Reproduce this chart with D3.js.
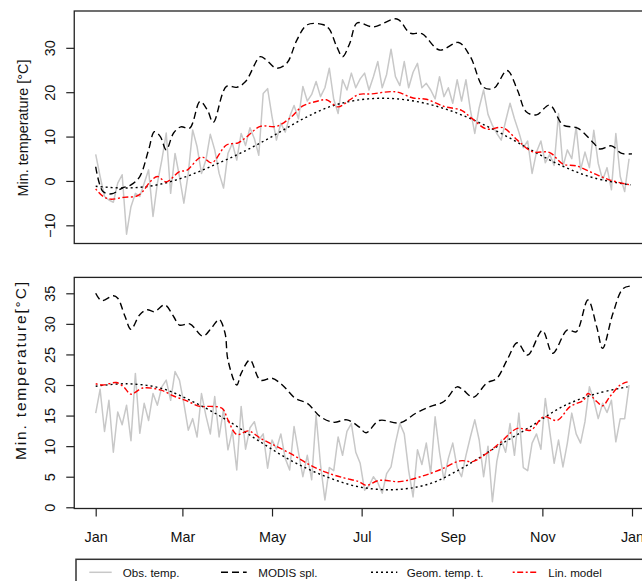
<!DOCTYPE html>
<html>
<head>
<meta charset="utf-8">
<script src="https://cdn.jsdelivr.net/npm/d3@7"></script>
<style>
  body { margin: 0; background: #fff; }
  svg { display: block; font-family: "Liberation Sans", Arial, Helvetica, sans-serif; }
</style>
</head>
<body>
<div id="chart"></div>
<script>
// month ticks (day of year)
var monthDays = [0, 59, 120, 181, 243, 304, 365],
    monthLabels = ["Jan", "Mar", "May", "Jul", "Sep", "Nov", "Jan"];

var legendLabels = ["Obs. temp.", "MODIS spl.", "Geom. temp. t.", "Lin. model"];

// observed daily minimum temperature, one value every 3 days from Jan 1
var obsTop = [6.0, 1.0, -3.5, -4.3, -4.8, -0.5, 1.4, -12.0, -5.8, -2.8, -3.5, -0.5, 2.5, -8.0, -0.5, 4.7,
  10.8, -2.8, 6.2, 1.0, -5.0, 1.7, 11.5, 7.7, 1.7, 4.7, 10.5, 7.0, 1.7, -1.6, 6.2, 8.5, 4.7, 10.7, 8.0,
  12.0, 9.5, 5.8, 19.7, 20.8, 14.5, 9.2, 13.0, 11.0, 14.5, 17.0, 14.0, 21.3, 18.0, 19.5, 22.4, 19.0, 21.0,
  25.4, 18.4, 15.2, 22.8, 20.5, 24.3, 21.0, 23.0, 24.3, 20.5, 23.5, 26.9, 21.0, 24.0, 29.7, 23.5, 21.5,
  26.9, 21.0, 24.5, 26.5, 21.0, 22.0, 20.5, 18.5, 23.5, 19.0, 21.0, 17.5, 22.8, 18.0, 22.8, 16.0, 10.7,
  16.5, 20.5, 15.0, 12.5, 10.7, 9.2, 13.5, 17.5, 14.0, 11.0, 7.5, 9.0, 1.7, 6.5, 9.0, 4.1, 6.0, 3.5, 15.2,
  3.2, 7.0, 5.0, 12.2, 2.5, 6.5, 3.0, 11.4, 4.0, 0.2, 3.0, -2.0, 10.7, 1.0, -2.4, 5.0];

var obsBottom = [15.4, 19.3, 12.4, 17.5, 9.0, 15.6, 13.5, 16.7, 10.9, 21.9, 12.1, 17.0, 14.2, 18.6, 16.7,
  19.7, 20.8, 17.5, 22.2, 20.8, 17.0, 12.6, 14.5, 11.5, 18.6, 15.0, 12.0, 18.1, 11.5, 16.0, 9.4, 12.5, 6.1,
  16.5, 9.5, 13.0, 14.0, 11.0, 12.0, 6.4, 11.0, 9.5, 12.0, 8.0, 6.1, 13.2, 9.0, 5.0, 8.5, 4.5, 15.1, 7.0,
  1.2, 6.5, 6.0, 11.5, 8.5, 12.4, 13.7, 9.0, 7.2, 2.8, 3.5, 5.0, 4.0, 2.3, 5.5, 6.6, 10.5, 13.7, 12.0, 6.0,
  1.7, 9.4, 7.0, 10.5, 5.5, 14.8, 9.0, 4.5, 8.0, 10.5, 6.5, 5.0, 8.5, 11.5, 14.3, 11.0, 5.0, 10.0, 0.9,
  7.5, 11.0, 9.0, 13.7, 8.5, 15.4, 6.5, 6.0, 10.5, 12.0, 9.5, 17.8, 12.5, 7.2, 11.0, 6.6, 10.5, 15.4, 12.0,
  10.5, 14.0, 19.7, 17.5, 14.5, 17.0, 15.5, 17.5, 10.7, 14.5, 14.5, 20.0];

// [day of year, temperature]
var modisTop = [[0, 3.2], [5, -2.4], [11, -2.9], [18, -1.6], [24, -0.9], [30, 1.0], [36, 7.0], [40, 11.1],
  [44, 10.0], [48, 7.0], [53, 10.8], [58, 12.2], [64, 11.9], [71, 17.9], [76, 16.0], [80, 13.2], [89, 21.3],
  [96, 21.1], [102, 22.4], [112, 28.0], [116, 27.3], [123, 25.4], [130, 26.5], [137, 31.8], [144, 35.2],
  [155, 35.2], [159, 34.2], [164, 30.3], [168, 28.0], [173, 31.1], [178, 35.6], [189, 34.7], [205, 36.5],
  [214, 33.3], [222, 33.2], [234, 29.5], [247, 31.2], [255, 28.0], [264, 21.1], [271, 20.9], [280, 24.9],
  [287, 20.5], [293, 15.6], [300, 14.9], [309, 17.1], [318, 12.6], [328, 11.9], [339, 8.5], [343, 7.2],
  [351, 7.9], [358, 6.2], [365, 6.1]];

var geomTop = [[0, -1.2], [20, -1.6], [40, -1.0], [60, 0.8], [80, 3.5], [100, 6.5], [120, 10.0], [140, 13.8],
  [160, 16.8], [180, 18.3], [200, 18.6], [220, 17.8], [240, 16.0], [260, 13.3], [280, 10.0], [300, 6.3],
  [320, 3.0], [340, 0.6], [364, -0.9]];

var linTop = [[0, -1.8], [5, -3.5], [10, -4.1], [19, -3.7], [28, -3.4], [32, -2.4], [37, -0.2], [42, 1.0],
  [48, -0.2], [57, 2.1], [62, 2.4], [72, 5.4], [79, 4.1], [89, 8.1], [97, 8.6], [103, 10.0], [112, 12.3],
  [123, 12.3], [132, 14.1], [141, 16.9], [150, 17.9], [157, 18.3], [165, 16.7], [173, 18.3], [179, 19.5],
  [187, 19.6], [204, 20.1], [216, 18.7], [225, 18.4], [237, 16.8], [249, 15.9], [256, 14.1], [266, 11.7],
  [277, 12.0], [287, 9.2], [297, 6.6], [309, 6.4], [318, 3.8], [327, 3.4], [339, 1.7], [350, 0.2], [364, -0.9]];

var modisBottom = [[0, 35.0], [4, 33.8], [12, 34.6], [15, 34.2], [20, 31.2], [24, 29.1], [30, 31.5],
  [35, 32.3], [40, 32.0], [47, 33.1], [53, 31.2], [57, 29.8], [64, 30.0], [73, 28.0], [79, 29.4], [84, 30.7],
  [88, 28.5], [90, 24.1], [96, 20.0], [99, 21.9], [105, 24.1], [112, 20.8], [120, 21.1], [127, 20.0],
  [136, 17.8], [144, 17.0], [153, 14.8], [162, 13.9], [171, 14.3], [179, 13.2], [184, 12.2], [193, 14.2],
  [207, 13.8], [218, 15.4], [228, 16.5], [237, 17.3], [246, 19.7], [250, 19.2], [257, 18.0], [266, 20.3],
  [273, 21.1], [280, 24.1], [287, 26.9], [294, 24.9], [304, 28.9], [311, 25.2], [321, 29.0], [327, 28.7],
  [335, 33.9], [341, 29.5], [345, 26.0], [352, 31.7], [359, 35.8], [365, 36.2]];

var geomBottom = [[0, 19.8], [21, 20.2], [44, 19.5], [66, 17.3], [89, 14.3], [112, 10.7], [134, 7.5],
  [157, 5.0], [180, 3.3], [205, 2.9], [228, 3.9], [250, 6.5], [273, 9.9], [296, 13.2], [318, 16.5],
  [341, 18.6], [362, 19.7]];

var linBottom = [[0, 20.2], [5, 20.0], [14, 20.4], [19, 19.7], [24, 18.5], [32, 19.5], [44, 19.2], [53, 18.2],
  [62, 17.4], [71, 16.5], [78, 16.5], [86, 16.2], [90, 14.3], [96, 11.9], [104, 12.5], [112, 11.3],
  [121, 10.2], [134, 8.6], [146, 6.9], [157, 5.7], [169, 4.8], [179, 4.2], [184, 3.6], [193, 4.4],
  [207, 4.2], [221, 5.0], [234, 6.1], [248, 7.6], [257, 7.5], [266, 8.8], [275, 10.5], [287, 12.9],
  [296, 12.6], [305, 14.8], [314, 14.2], [323, 16.5], [332, 17.5], [335, 18.6], [341, 17.3], [345, 16.6],
  [350, 18.1], [357, 20.0], [362, 20.5]];

var width = 642, height = 581;

var styles = {
  obs:   {stroke: "#c8c8c8", width: 1.5, dash: null},
  modis: {stroke: "#000", width: 1.4, dash: "7,4"},
  geom:  {stroke: "#000", width: 1.4, dash: "2,3"},
  lin:   {stroke: "#ff0000", width: 1.4, dash: "2,2.5,6,2.5"}
};

var x = d3.scaleLinear().domain([0, 365]).range([95.7, 632]);
var boxLeft = x(-14.6), boxRight = x(379.6);

var svg = d3.select("#chart").append("svg")
    .attr("width", width).attr("height", height);
svg.append("rect").attr("width", width).attr("height", height).attr("fill", "#fff");

function withDays(vals) {
  return vals.map(function(v, i) { return [i * 3, v]; });
}

function panel(opts) {
  var y = d3.scaleLinear().domain(opts.domain).range(opts.range);
  var g = svg.append("g");
  var top = opts.range[1], bottom = opts.range[0];

  var clipId = "clip" + opts.id;
  svg.append("clipPath").attr("id", clipId).append("rect")
    .attr("x", boxLeft).attr("y", top)
    .attr("width", boxRight - boxLeft).attr("height", bottom - top);

  var plot = g.append("g").attr("clip-path", "url(#" + clipId + ")");
  var line = d3.line()
    .x(function(d) { return x(d[0]); })
    .y(function(d) { return y(d[1]); });
  var smooth = d3.line()
    .x(function(d) { return x(d[0]); })
    .y(function(d) { return y(d[1]); })
    .curve(d3.curveCatmullRom);

  [["obs", withDays(opts.obs), line],
   ["modis", opts.modis, smooth],
   ["geom", opts.geom, smooth],
   ["lin", opts.lin, smooth]].forEach(function(s) {
    var st = styles[s[0]];
    plot.append("path")
      .datum(s[1])
      .attr("fill", "none")
      .attr("stroke", st.stroke)
      .attr("stroke-width", st.width)
      .attr("stroke-dasharray", st.dash)
      .attr("stroke-linejoin", "round")
      .attr("d", s[2]);
  });

  // y axis, R style labels parallel to the axis
  var yAxis = g.append("g")
    .attr("transform", "translate(" + boxLeft + ",0)")
    .call(d3.axisLeft(y).tickValues(opts.ticks).tickSize(8).tickFormat(d3.format("d")));
  yAxis.select(".domain").remove();
  yAxis.selectAll(".tick line").attr("stroke", "#222").attr("stroke-width", 1.2);
  yAxis.selectAll(".tick text")
    .attr("x", 0).attr("y", 0).attr("dy", 0)
    .attr("transform", "translate(-19,0) rotate(-90)")
    .attr("text-anchor", "middle")
    .attr("fill", "#111")
    .style("font-size", "14.4px");

  var title = g.append("text")
    .attr("transform", "translate(" + opts.titleX + "," + opts.titleY + ") rotate(-90)")
    .attr("text-anchor", "middle")
    .attr("fill", "#111")
    .style("font-size", opts.titleSize)
    .text(opts.title);
  if (opts.titleLength) {
    title.attr("textLength", opts.titleLength).attr("lengthAdjust", "spacing");
  }

  if (opts.xaxis) {
    var xAxis = g.append("g")
      .attr("transform", "translate(0," + bottom + ")")
      .call(d3.axisBottom(x).tickValues(monthDays).tickSize(8)
        .tickFormat(function(d, i) { return monthLabels[i]; }));
    xAxis.select(".domain").remove();
    xAxis.selectAll(".tick line").attr("stroke", "#222").attr("stroke-width", 1.2);
    xAxis.selectAll(".tick text")
      .attr("y", 33.5).attr("dy", 0)
      .attr("fill", "#111")
      .style("font-size", "14.4px");
  }

  g.append("rect")
    .attr("x", boxLeft).attr("y", top)
    .attr("width", boxRight - boxLeft).attr("height", bottom - top)
    .attr("fill", "none").attr("stroke", "#222").attr("stroke-width", 1.3);
}

panel({id: "top", domain: [-14.1, 38.3], range: [243.5, 11], ticks: [-10, 0, 10, 20, 30],
  obs: obsTop, modis: modisTop, geom: geomTop, lin: linTop,
  title: "Min. temperature [°C]", titleX: 27.5, titleY: 128, titleSize: "14.4px", xaxis: false});

panel({id: "bottom", domain: [-0.2, 37.6], range: [508.5, 277.4], ticks: [0, 5, 10, 15, 20, 25, 30, 35],
  obs: obsBottom, modis: modisBottom, geom: geomBottom, lin: linBottom,
  title: "Min. temperature[°C]", titleX: 25.5, titleY: 371, titleSize: "15.5px", titleLength: 178,
  xaxis: true});

// legend
var legendX = [[89.3, 111.7, 122.7], [221, 246.7, 258.3], [371, 397.3, 406.7], [512.7, 536.7, 548.3]],
    legendKeys = ["obs", "modis", "geom", "lin"],
    legendY = 572.3;

var legend = svg.append("g");
legend.append("rect")
  .attr("x", 76).attr("y", 559.3).attr("width", 700).attr("height", 60)
  .attr("fill", "none").attr("stroke", "#333").attr("stroke-width", 1.5);

legendLabels.forEach(function(label, i) {
  var st = styles[legendKeys[i]], p = legendX[i];
  legend.append("line")
    .attr("x1", p[0]).attr("x2", p[1]).attr("y1", legendY).attr("y2", legendY)
    .attr("stroke", st.stroke).attr("stroke-width", st.width)
    .attr("stroke-dasharray", st.dash);
  legend.append("text")
    .attr("x", p[2]).attr("y", legendY + 4.2)
    .attr("fill", "#111")
    .style("font-size", "11.6px")
    .text(label);
});
</script>
</body>
</html>
